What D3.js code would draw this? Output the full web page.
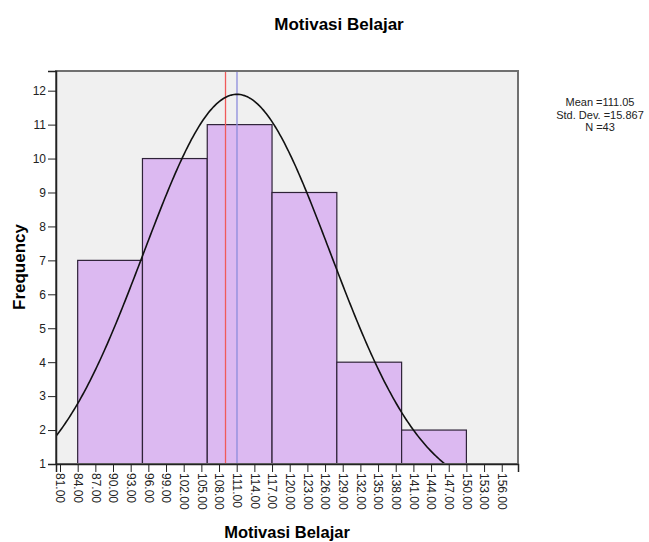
<!DOCTYPE html>
<html>
<head>
<meta charset="utf-8">
<script src="https://cdn.jsdelivr.net/npm/d3@7"></script>
<style>
  body { margin: 0; background: #fff; }
  text { font-family: "Liberation Sans", Arial, sans-serif; }
</style>
</head>
<body>
<div id="chart"></div>
<script>
"use strict";

// histogram data
const binEdges = [84, 95, 106, 117, 128, 139, 150];
const counts = [7, 10, 11, 9, 4, 2];
const xTicks = d3.range(81, 157, 3);
const yTicks = [1, 2, 3, 4, 5, 6, 7, 8, 9, 10, 11, 12];
const statMean = 111.05;
const statSd = 15.867;
const statN = 43;
const refLines = [{v: 109.1, color: "#f05a5a"}, {v: 111.05, color: "#8c8cdc"}];
const legendLines = ["Mean =111.05", "Std. Dev. =15.867", "N =43"];

const W = 649, H = 542;
const plot = {left: 56, right: 518, top: 71, bottom: 464};

const svg = d3.select("#chart").append("svg")
    .attr("width", W)
    .attr("height", H);

const x = d3.scaleLinear()
    .domain([80.32, 158.76])
    .range([plot.left, plot.right]);

const y = d3.scaleLinear()
    .domain([1, 12.58])
    .range([plot.bottom, plot.top]);

// plot background
svg.append("rect")
    .attr("x", plot.left)
    .attr("y", plot.top)
    .attr("width", plot.right - plot.left)
    .attr("height", plot.bottom - plot.top)
    .attr("fill", "#f0f0f0");

svg.append("clipPath").attr("id", "clip")
  .append("rect")
    .attr("x", plot.left)
    .attr("y", plot.top)
    .attr("width", plot.right - plot.left)
    .attr("height", plot.bottom - plot.top);

// bars
const bins = counts.map((c, i) => ({x0: binEdges[i], x1: binEdges[i + 1], count: c}));
svg.append("g").selectAll("rect")
    .data(bins)
    .enter()
    .append("rect")
      .attr("x", d => x(d.x0))
      .attr("y", d => y(d.count))
      .attr("width", d => x(d.x1) - x(d.x0))
      .attr("height", d => y(1) - y(d.count))
      .attr("fill", "#dcb9f1")
      .attr("stroke", "#2e2238")
      .attr("stroke-width", 1.2);

// reference lines
svg.append("g").selectAll("line")
    .data(refLines)
    .enter()
    .append("line")
      .attr("x1", d => x(d.v))
      .attr("x2", d => x(d.v))
      .attr("y1", plot.top)
      .attr("y2", plot.bottom)
      .attr("stroke", d => d.color)
      .attr("stroke-width", 1.3);

// fitted normal curve from the stated mean / sd / N
const binW = binEdges[1] - binEdges[0];
const normal = v => statN * binW / (statSd * Math.sqrt(2 * Math.PI)) *
    Math.exp(-0.5 * Math.pow((v - statMean) / statSd, 2));
const curvePts = d3.range(x.domain()[0], x.domain()[1], 0.25).map(v => [v, normal(v)]);
svg.append("path")
    .datum(curvePts)
    .attr("clip-path", "url(#clip)")
    .attr("fill", "none")
    .attr("stroke", "#111")
    .attr("stroke-width", 1.6)
    .attr("d", d3.line().x(d => x(d[0])).y(d => y(d[1])));

// frame
svg.append("rect")
    .attr("x", plot.left)
    .attr("y", plot.top)
    .attr("width", plot.right - plot.left)
    .attr("height", plot.bottom - plot.top)
    .attr("fill", "none")
    .attr("stroke", "#707070")
    .attr("stroke-width", 2);

// y axis
const yAxis = svg.append("g")
    .attr("transform", `translate(${plot.left},0)`)
    .call(d3.axisLeft(y).tickValues(yTicks).tickSize(8).tickPadding(2).tickFormat(d3.format("d")));
yAxis.select(".domain").attr("stroke", "#222").attr("stroke-width", 1.5);
yAxis.selectAll(".tick line").attr("stroke", "#222");
yAxis.selectAll("text")
    .style("font-size", "12px")
    .attr("fill", "#222");

// x axis
const xAxis = svg.append("g")
    .attr("transform", `translate(0,${plot.bottom})`)
    .call(d3.axisBottom(x).tickValues(xTicks).tickSize(8).tickFormat(d3.format(".2f")));
xAxis.select(".domain").attr("stroke", "#222").attr("stroke-width", 1.5);
xAxis.selectAll(".tick line").attr("stroke", "#222");
xAxis.selectAll("text")
    .style("font-size", "12px")
    .attr("fill", "#222")
    .style("text-anchor", "start")
    .attr("transform", "rotate(90)")
    .attr("x", 9)
    .attr("y", 0)
    .attr("dy", "0.35em");

// title and axis labels
svg.append("text")
    .attr("x", 339)
    .attr("y", 30)
    .attr("text-anchor", "middle")
    .style("font-size", "17px")
    .style("font-weight", "bold")
    .text("Motivasi Belajar");

svg.append("text")
    .attr("x", 287)
    .attr("y", 538)
    .attr("text-anchor", "middle")
    .style("font-size", "16.5px")
    .style("font-weight", "bold")
    .text("Motivasi Belajar");

svg.append("text")
    .attr("transform", "translate(25,267) rotate(-90)")
    .attr("text-anchor", "middle")
    .style("font-size", "17px")
    .style("font-weight", "bold")
    .text("Frequency");

// stats legend
svg.append("g").selectAll("text")
    .data(legendLines)
    .enter()
    .append("text")
      .attr("x", 600)
      .attr("y", (d, i) => 106 + i * 12.7)
      .attr("text-anchor", "middle")
      .style("font-size", "11px")
      .attr("fill", "#222")
      .text(d => d);
</script>
</body>
</html>
